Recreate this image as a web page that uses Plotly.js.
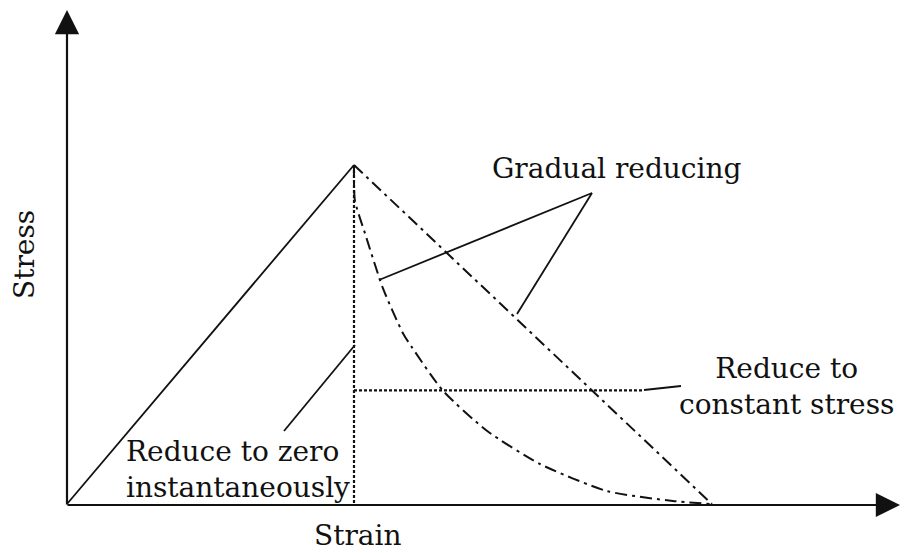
<!DOCTYPE html>
<html><head><meta charset="utf-8">
<script src="https://cdn.plot.ly/plotly-3.0.1.min.js"></script>
<style>body{margin:0;background:#fff}#c{width:912px;height:553px}</style>
</head><body><div id="c"></div>
<script>
// Schematic stress–strain (normalised units: peak = 1,1)
const loadStrain = [0, 1.0];
const loadStress = [0, 1.0];
const zeroStrain = [1.0, 1.0];
const zeroStress = [1.0, 0.0];
const constStrain = [1.0, 2.007];
const constStress = [0.335, 0.335];
const linStrain = [1.0, 2.247];
const linStress = [1.0, 0.0];
const curveStrain = [1.0, 1.003, 1.038, 1.101, 1.171, 1.202, 1.310, 1.463, 1.648, 1.882, 2.111, 2.240];
const curveStress = [1.0, 0.896, 0.799, 0.636, 0.503, 0.462, 0.334, 0.216, 0.118, 0.038, 0.009, 0.0];
const xLabel = 'Strain';
const yLabel = 'Stress';

const ink = '#111';
const font = {family: 'DejaVu Serif, serif', size: 28, color: ink};
const dashdot = '12px,5px,3px,5px';
const dotted = '3px,2px';

const traces = [
  {x: loadStrain, y: loadStress, mode: 'lines', line: {color: ink, width: 1.8}},
  {x: zeroStrain, y: zeroStress, mode: 'lines', line: {color: ink, width: 2.2, dash: dotted}},
  {x: constStrain, y: constStress, mode: 'lines', line: {color: ink, width: 2.2, dash: dotted}},
  {x: linStrain, y: linStress, mode: 'lines', line: {color: ink, width: 2, dash: dashdot}},
  {x: curveStrain, y: curveStress, mode: 'lines', line: {color: ink, width: 2, dash: dashdot, shape: 'spline', smoothing: 0.6}}
];

const px = v => (v - 67) / 287;      // helper for layout placement only
const py = v => (504 - v) / 339;

const lead = (x0, y0, x1, y1) => ({type: 'line', xref: 'x', yref: 'y',
  x0: px(x0), y0: py(y0), x1: px(x1), y1: py(y1), line: {color: ink, width: 1.8}});

const layout = {
  width: 912, height: 553,
  margin: {l: 0, r: 0, t: 0, b: 0},
  paper_bgcolor: '#fff', plot_bgcolor: '#fff',
  showlegend: false,
  xaxis: {range: [px(0), px(912)], visible: false, fixedrange: true},
  yaxis: {range: [py(553), py(0)], visible: false, fixedrange: true},
  shapes: [
    lead(592, 193, 379, 280),
    lead(592, 193, 517, 314),
    lead(355, 345, 284, 431),
    lead(644, 390, 681, 386)
  ],
  annotations: [
    {x: px(900), y: py(505), ax: px(66), ay: py(505), axref: 'x', ayref: 'y', xref: 'x', yref: 'y',
     text: '', showarrow: true, arrowhead: 2, arrowsize: 2.2, arrowwidth: 2.2, arrowcolor: ink},
    {x: px(67), y: py(10), ax: px(67), ay: py(506), axref: 'x', ayref: 'y', xref: 'x', yref: 'y',
     text: '', showarrow: true, arrowhead: 2, arrowsize: 2.2, arrowwidth: 2.2, arrowcolor: ink},
    {x: px(358), y: py(535), xref: 'x', yref: 'y', text: xLabel, showarrow: false, font: font},
    {x: px(24), y: py(255), xref: 'x', yref: 'y', text: yLabel, showarrow: false, font: font, textangle: -90},
    {x: px(617), y: py(168), xref: 'x', yref: 'y', text: 'Gradual reducing', showarrow: false, font: font},
    {x: px(786), y: py(386), xref: 'x', yref: 'y', text: 'Reduce to<br>constant stress', showarrow: false, font: font, align: 'center'},
    {x: px(238), y: py(469), xref: 'x', yref: 'y', text: 'Reduce to zero<br>instantaneously', showarrow: false, font: font, align: 'left'}
  ]
};

Plotly.newPlot('c', traces, layout, {staticPlot: true, displayModeBar: false});
</script></body></html>
